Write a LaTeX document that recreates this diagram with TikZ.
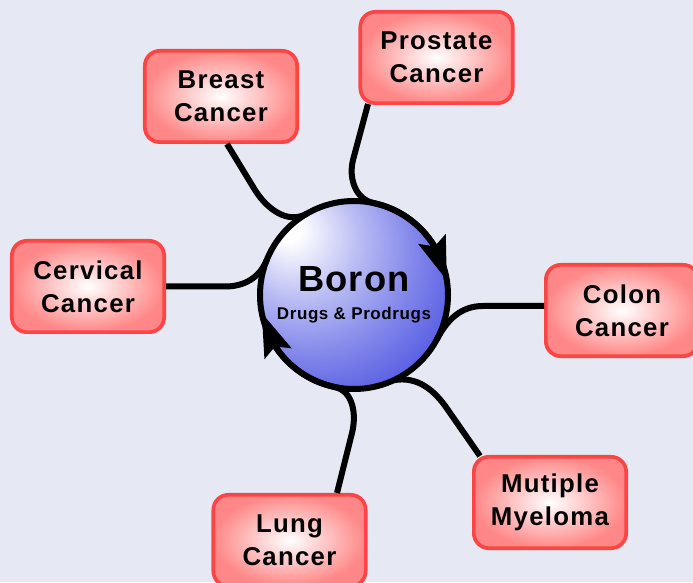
\documentclass[tikz,border=0pt]{standalone}
\usepackage{fontspec}
\setmainfont{Liberation Sans}
\newfontfamily\boxfont[LetterSpace=5]{Liberation Sans}
\newfontfamily\ballfont[LetterSpace=3.5]{Liberation Sans}
\usetikzlibrary{arrows.meta,bending,calc,positioning}
\definecolor{bgcol}{RGB}{230,233,243}
\definecolor{rimred}{RGB}{255,68,68}
\definecolor{boxpink}{RGB}{255,135,135}
\definecolor{boronblue}{RGB}{58,66,222}
\pgfdeclareradialshading{boronball}{\pgfpoint{-18bp}{18bp}}{color(0bp)=(white);
  color(3bp)=(white); color(16bp)=(boronblue!36!white); color(28bp)=(boronblue!64!white);
  color(40bp)=(boronblue!88!white); color(50bp)=(boronblue); color(80bp)=(boronblue)}
\tikzset{
  cancer/.style={draw=rimred,line width=0.11cm,rounded corners=0.45cm,
    inner color=white,outer color=boxpink,minimum width=4.57cm,minimum height=2.74cm,
    align=center,font=\boxfont\bfseries\fontsize{22}{28.2}\selectfont},
  link/.style={line width=0.18cm},
  cyclearrow/.style={link,-{Stealth[length=1.3cm,width=0.85cm,inset=0.22cm,flex]}}
}
\begin{document}
\begin{tikzpicture}[x=0.03cm,y=0.03cm]
 \fill[bgcol] (0,0) rectangle (693,582);
 \useasboundingbox (0,0) rectangle (693,582);
 \clip (0,0) rectangle (693,582);
 \node[cancer] (breast) at (221,485.5) {Breast\\Cancer};
 \node[cancer] (prostate) at (436.5,524.5) {Prostate\\Cancer};
 \node[cancer] (cervical) at (88,295.5) {Cervical\\Cancer};
 \node[cancer] (colon) at (622,271.5) {Colon\\Cancer};
 \node[cancer] (myeloma) at (550,79.5) {Mutiple\\Myeloma};
 \node[cancer] (lung) at (289.5,41.5) {Lung\\Cancer};
 \node[circle,draw=black,line width=0.18cm,shading=boronball,minimum size=5.64cm,
   inner sep=0pt,outer sep=0pt,align=center,
   font=\ballfont\bfseries\fontsize{14.5}{23.9}\selectfont] (boron) at (354,287)
   {{\fontsize{31}{23.9}\selectfont Boron}\\Drugs \& Prodrugs};
 \draw[link] ($(breast.south)+(6,0)$) -- (255,392) to[out=-58,in=210] (boron.120);
 \draw[cyclearrow] ($(prostate.south)+(-68.5,1)$) -- (353,422)
   to[out=-104,in=168] (boron.78) arc[start angle=78,end angle=9,radius=2.82cm];
 \draw[link] (cervical.east) -- (225,295.5) to[out=0,in=248] (boron.158);
 \draw[link] ($(colon.west)+(0,4.5)$) -- (483,276) to[out=180,in=62] (boron.-28);
 \draw[link] ($(myeloma.north)+(-70,-1)$) -- (448,172) to[out=124,in=10] (boron.-65);
 \draw[cyclearrow] ($(lung.north)+(47.5,0)$) -- (352,149)
   to[out=76,in=348] (boron.258) arc[start angle=258,end angle=191,radius=2.82cm];
\end{tikzpicture}
\end{document}
